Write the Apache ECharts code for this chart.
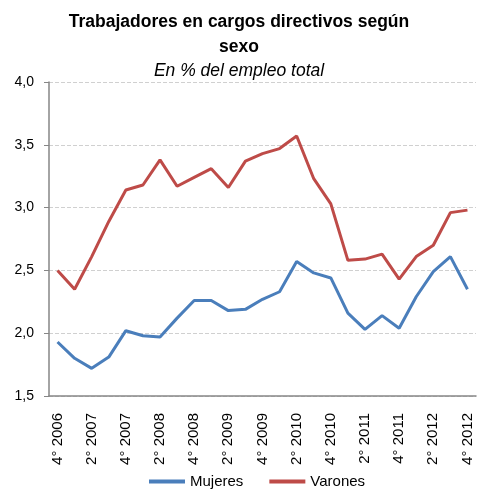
<!DOCTYPE html>
<html>
<head>
<meta charset="utf-8">
<script src="https://cdn.jsdelivr.net/npm/echarts@6/dist/echarts.min.js"></script>
<style>
  html, body { margin: 0; padding: 0; background: #fff; }
  #chart { width: 478px; height: 489px; }
</style>
</head>
<body>
<div id="chart"></div>
<script>
// trimestres 4°2006 .. 4°2012
const quarters = [
  '4° 2006', '1° 2007', '2° 2007', '3° 2007', '4° 2007',
  '1° 2008', '2° 2008', '3° 2008', '4° 2008',
  '1° 2009', '2° 2009', '3° 2009', '4° 2009',
  '1° 2010', '2° 2010', '3° 2010', '4° 2010',
  '1° 2011', '2° 2011', '3° 2011', '4° 2011',
  '1° 2012', '2° 2012', '3° 2012', '4° 2012'
]
const mujeres = [
  1.93, 1.80, 1.72, 1.81, 2.02, 1.98, 1.97, 2.12, 2.26,
  2.26, 2.18, 2.19, 2.27, 2.33, 2.57, 2.48, 2.44,
  2.16, 2.03, 2.14, 2.04, 2.29, 2.49, 2.61, 2.35
]
const varones = [
  2.50, 2.35, 2.61, 2.89, 3.14, 3.18, 3.38, 3.17, 3.24,
  3.31, 3.16, 3.37, 3.43, 3.47, 3.57, 3.23, 3.03,
  2.58, 2.59, 2.63, 2.43, 2.61, 2.70, 2.96, 2.98
]
const yTicks = { min: 1.5, max: 4.0, step: 0.5 }

const chart = echarts.init(document.getElementById('chart'))
const font = 'Liberation Sans, Arial, sans-serif'

chart.setOption({
  animation: false,
  backgroundColor: '#fff',
  title: {
    text: 'Trabajadores en cargos directivos según\nsexo',
    subtext: 'En % del empleo total',
    left: 'center',
    top: 5,
    itemGap: 2,
    textStyle: {
      fontFamily: font,
      fontSize: 17.5,
      fontWeight: 'bold',
      color: '#000',
      lineHeight: 25
    },
    subtextStyle: {
      fontFamily: font,
      fontSize: 17.5,
      fontStyle: 'italic',
      color: '#000'
    }
  },
  grid: {
    left: 49,
    right: 2,
    top: 82,
    bottom: 93
  },
  legend: {
    top: 474,
    left: 149,
    padding: 0,
    icon: 'rect',
    itemWidth: 36,
    itemHeight: 4,
    itemGap: 26,
    textStyle: { fontFamily: font, fontSize: 15, color: '#000' },
    data: ['Mujeres', 'Varones']
  },
  xAxis: {
    type: 'category',
    data: quarters,
    boundaryGap: true,
    axisLine: { lineStyle: { color: '#868686', width: 1.5 } },
    axisTick: { interval: 0, length: 5, lineStyle: { color: '#868686' } },
    axisLabel: {
      interval: 1,
      rotate: 90,
      fontFamily: font,
      fontSize: 15,
      color: '#000',
      margin: 17
    }
  },
  yAxis: {
    type: 'value',
    min: yTicks.min,
    max: yTicks.max,
    interval: yTicks.step,
    axisLine: { show: true, lineStyle: { color: '#868686', width: 1.5 } },
    axisTick: { show: true, length: 5, lineStyle: { color: '#868686' } },
    axisLabel: {
      fontFamily: font,
      fontSize: 14,
      color: '#000',
      margin: 15,
      formatter: v => v.toFixed(1).replace('.', ',')
    },
    splitLine: {
      show: true,
      lineStyle: { color: '#d0d0d0', type: 'dashed' }
    }
  },
  series: [
    {
      name: 'Mujeres',
      type: 'line',
      data: mujeres,
      symbol: 'none',
      lineStyle: { color: '#4a7ebb', width: 3 },
      itemStyle: { color: '#4a7ebb' }
    },
    {
      name: 'Varones',
      type: 'line',
      data: varones,
      symbol: 'none',
      lineStyle: { color: '#be4b48', width: 3 },
      itemStyle: { color: '#be4b48' }
    }
  ]
})
</script>
</body>
</html>
